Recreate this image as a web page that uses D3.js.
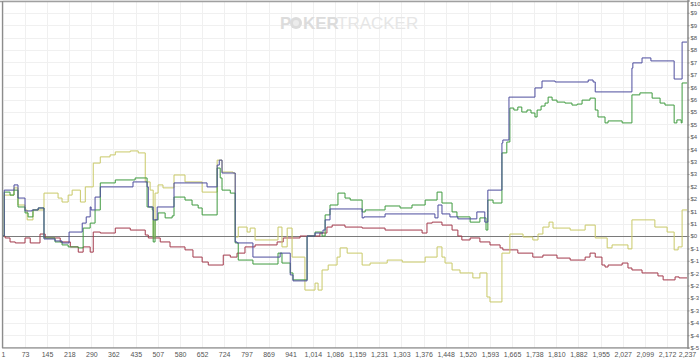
<!DOCTYPE html>
<html><head><meta charset="utf-8">
<script src="https://cdn.jsdelivr.net/npm/d3@7/dist/d3.min.js"></script>
<style>html,body{margin:0;padding:0;background:#fff;overflow:hidden}svg{display:block}</style>
</head><body><svg id="c" width="700" height="359"></svg>
<script>
const xTickValues = [1,73,145,218,290,362,435,507,580,652,724,797,869,941,1014,1086,1159,1231,1303,1376,1448,1520,1593,1665,1738,1810,1882,1955,2027,2099,2172,2237];
const yTickValues = d3.range(-4.5, 9.51, 0.5);
const handsMax = 2237;

const blueData = [[1,0],[5,1.85],[37,2.06],[50,1.53],[73,1.01],[96,1.05],[116,1.13],[135,-0.12],[171,-0.20],[194,-0.28],[217,0.16],[260,0.52],[273,0.77],[286,1.17],[289,1.05],[302,1.57],[319,1.98],[426,2.18],[472,1.98],[476,1.17],[492,0.65],[505,1.17],[560,2.14],[668,1.98],[701,2.86],[708,3.06],[717,2.54],[760,-0.24],[766,-0.28],[818,-0.85],[907,-0.69],[940,-1.57],[949,-1.81],[995,0],[1021,0.12],[1047,0.24],[1054,0.65],[1070,1.09],[1175,0.73],[1181,0.77],[1250,0.89],[1413,0.73],[1423,1.25],[1436,0.89],[1462,0.77],[1488,0.69],[1550,0.97],[1576,0.56],[1586,1.85],[1632,3.75],[1635,3.87],[1655,5.60],[1740,5.97],[1763,6.25],[1806,6.21],[1914,6.29],[1930,6.21],[1937,5.81],[2057,6.77],[2060,6.98],[2090,7.18],[2119,7.06],[2195,6.33],[2221,7.82],[2237,7.82]];

const greenData = [[1,0],[5,1.77],[24,1.65],[37,1.85],[50,1.17],[73,0.93],[83,0.77],[99,1.05],[116,1.13],[135,-0.08],[171,-0.24],[194,-0.36],[214,-0.44],[247,-0.48],[263,0.32],[286,0.52],[302,1.05],[319,2.14],[368,2.26],[433,2.34],[472,1.17],[489,1.05],[492,-0.24],[498,0.65],[508,0.93],[531,0.73],[554,0.81],[560,1.57],[596,1.45],[619,1.25],[639,1.13],[652,0.85],[701,2.74],[711,2.34],[717,1.85],[744,1.73],[760,-0.28],[770,-0.97],[818,-1.13],[900,-0.69],[913,-1.09],[940,-1.49],[949,-1.77],[995,0],[1021,0.16],[1044,0],[1054,0.85],[1070,1.25],[1096,1.73],[1119,1.53],[1136,1.45],[1175,0.97],[1185,1.05],[1250,1.21],[1299,1.13],[1338,1.25],[1381,1.45],[1420,1.77],[1436,1.33],[1469,0.97],[1485,0.77],[1528,0.56],[1560,0.73],[1580,0.24],[1586,1.45],[1603,1.33],[1632,3.35],[1648,3.79],[1658,5.16],[1671,5.08],[1684,5.20],[1697,5.00],[1714,5.08],[1727,4.96],[1740,4.80],[1747,5.08],[1760,5.24],[1773,5.36],[1783,5.60],[1796,5.48],[1812,5.40],[1838,5.36],[1861,5.28],[1878,5.32],[1894,5.48],[1920,5.56],[1937,5.08],[1946,4.80],[1969,4.56],[1979,4.64],[2025,4.56],[2057,5.69],[2083,5.77],[2123,5.56],[2149,5.36],[2165,5.28],[2195,4.56],[2204,4.68],[2218,4.56],[2221,6.17],[2237,6.17]];

const yellowData = [[1,0],[5,1.65],[37,1.94],[50,1.25],[73,1.05],[80,0.65],[99,1.05],[135,1.73],[181,1.53],[194,1.37],[214,1.65],[227,1.85],[254,1.37],[270,1.98],[296,2.94],[319,3.19],[351,3.27],[368,3.39],[417,3.43],[443,3.35],[466,2.18],[482,1.85],[492,-0.04],[498,1.73],[508,2.06],[524,1.94],[560,2.46],[596,2.18],[652,1.77],[701,3.06],[717,2.58],[753,2.54],[760,-0.04],[770,0.36],[799,0.16],[809,0.32],[825,-0.16],[900,0.36],[913,-0.44],[930,0.32],[946,-0.85],[988,-2.18],[1021,-1.90],[1031,-2.18],[1044,-1.37],[1064,-1.17],[1093,-0.85],[1103,-0.48],[1126,-0.69],[1175,-1.17],[1201,-1.09],[1257,-0.97],[1306,-1.05],[1381,-0.85],[1420,-0.44],[1436,-0.85],[1446,-1.09],[1469,-1.37],[1495,-1.49],[1537,-1.69],[1560,-1.49],[1583,-2.46],[1593,-2.66],[1632,-0.69],[1658,0.08],[1701,-0.04],[1733,-0.16],[1750,0.08],[1766,0.36],[1786,0.56],[1799,0.32],[1855,0.24],[1904,0.44],[1937,-0.08],[1976,-0.48],[1992,-0.36],[2044,-0.52],[2057,0.65],[2132,0.36],[2172,0.16],[2195,-0.56],[2208,-0.44],[2221,1.05],[2237,1.05]];

const redData = [[1,0],[8,-0.08],[24,-0.24],[41,-0.28],[73,-0.08],[90,-0.28],[122,0.08],[139,-0.08],[188,-0.24],[221,-0.44],[247,-0.65],[263,-0.44],[286,-0.65],[296,0.16],[319,0.12],[368,0.32],[417,0.24],[466,0.04],[476,-0.08],[515,-0.24],[547,-0.44],[596,-0.56],[622,-0.85],[652,-1.05],[672,-1.17],[721,-0.77],[744,-0.85],[766,-0.69],[792,-0.44],[825,-0.36],[897,-0.24],[917,-0.08],[972,0],[1037,0.12],[1060,0.36],[1077,0.44],[1119,0.36],[1175,0.32],[1250,0.24],[1371,0.12],[1387,0.52],[1404,0.56],[1436,0.44],[1469,0.24],[1488,0],[1501,-0.16],[1528,-0.08],[1560,-0.24],[1593,-0.36],[1626,-0.48],[1635,-0.56],[1684,-0.69],[1733,-0.85],[1766,-0.77],[1812,-0.89],[1855,-0.97],[1904,-0.85],[1920,-0.69],[1937,-0.85],[1959,-1.17],[1969,-1.25],[1979,-1.17],[2025,-1.09],[2044,-1.29],[2057,-1.37],[2090,-1.49],[2142,-1.61],[2159,-1.77],[2198,-1.65],[2211,-1.69],[2237,-1.69]];

const seriesList = [
  {data: redData, color: "#a33a4c"},
  {data: yellowData, color: "#c9c968"},
  {data: greenData, color: "#3f9a3f"},
  {data: blueData, color: "#4d4d9e"}
];

const svg = d3.select("#c");
const x = d3.scaleLinear().domain([1, handsMax]).range([3, 687]);
const y = d3.scaleLinear().domain([-4.5, 9.5]).range([347.6, 0.4]);
const font = "Liberation Sans, Arial, sans-serif";

// grid
svg.append("g").selectAll("line").data(xTickValues).join("line")
  .attr("x1", d => Math.round(x(d)) + 0.5).attr("x2", d => Math.round(x(d)) + 0.5)
  .attr("y1", 1).attr("y2", 348).attr("stroke", "#f0f0f0");
svg.append("g").selectAll("line").data(yTickValues).join("line")
  .attr("x1", 3).attr("x2", 688)
  .attr("y1", d => Math.round(y(d)) + 0.5).attr("y2", d => Math.round(y(d)) + 0.5)
  .attr("stroke", "#f0f0f0");

// watermark
const wm = svg.append("g").attr("font-family", font).attr("font-size", 17);
wm.append("text").attr("x", 280).attr("y", 29).attr("font-weight", "bold").attr("fill", "#dcdcdc").text("P");
wm.append("circle").attr("cx", 296).attr("cy", 23).attr("r", 6).attr("fill", "#dcdcdc");
wm.append("circle").attr("cx", 296).attr("cy", 23).attr("r", 3).attr("fill", "#ececec");
wm.append("text").attr("x", 303).attr("y", 29).attr("font-weight", "bold").attr("fill", "#dcdcdc").text("KER");
wm.append("text").attr("x", 337).attr("y", 29).attr("fill", "#e6e6e6").text("TRACKER");

// zero line
svg.append("line").attr("x1", 3).attr("x2", 688)
  .attr("y1", Math.round(y(0)) + 0.5).attr("y2", Math.round(y(0)) + 0.5)
  .attr("stroke", "#7a7a7a").attr("stroke-width", 1);

// series
const line = d3.line().x(d => x(d[0])).y(d => y(d[1])).curve(d3.curveStepAfter);
svg.append("g").selectAll("path").data(seriesList).join("path")
  .attr("d", d => line(d.data)).attr("fill", "none")
  .attr("stroke", d => d.color).attr("stroke-width", 1);

// frame / axes
svg.append("line").attr("x1", 0).attr("x2", 688).attr("y1", 1.5).attr("y2", 1.5).attr("stroke", "#a0a0a0").attr("stroke-width", 1.5);
svg.append("line").attr("x1", 2.5).attr("x2", 2.5).attr("y1", 1).attr("y2", 348).attr("stroke", "#8c8c8c").attr("stroke-width", 1.3);
svg.append("line").attr("x1", 2).attr("x2", 688).attr("y1", 347.8).attr("y2", 347.8).attr("stroke", "#8c8c8c").attr("stroke-width", 1.3);

const yAxis = d3.axisRight(y).tickValues(yTickValues).tickSize(2).tickPadding(1)
  .tickFormat(v => "$" + (v < 0 ? "-" + Math.round(-v) : Math.round(v)));
const gy = svg.append("g").attr("transform", "translate(687.5,0)").call(yAxis);
gy.select(".domain").attr("stroke", "#8c8c8c").attr("stroke-width", 1.5);
gy.selectAll(".tick line").attr("stroke", "#8c8c8c");
gy.selectAll("text").attr("font-family", font).attr("font-size", 6).attr("fill", "#555")
  .attr("dy", d => d === 9.5 ? "0.9em" : "0.32em");

const xAxis = d3.axisBottom(x).tickValues(xTickValues).tickSize(0).tickPadding(4)
  .tickFormat(d3.format(","));
const gx = svg.append("g").attr("transform", "translate(0,348)").call(xAxis);
gx.select(".domain").remove();
gx.selectAll("text").attr("font-family", font).attr("font-size", 7).attr("fill", "#555");
</script></body></html>
